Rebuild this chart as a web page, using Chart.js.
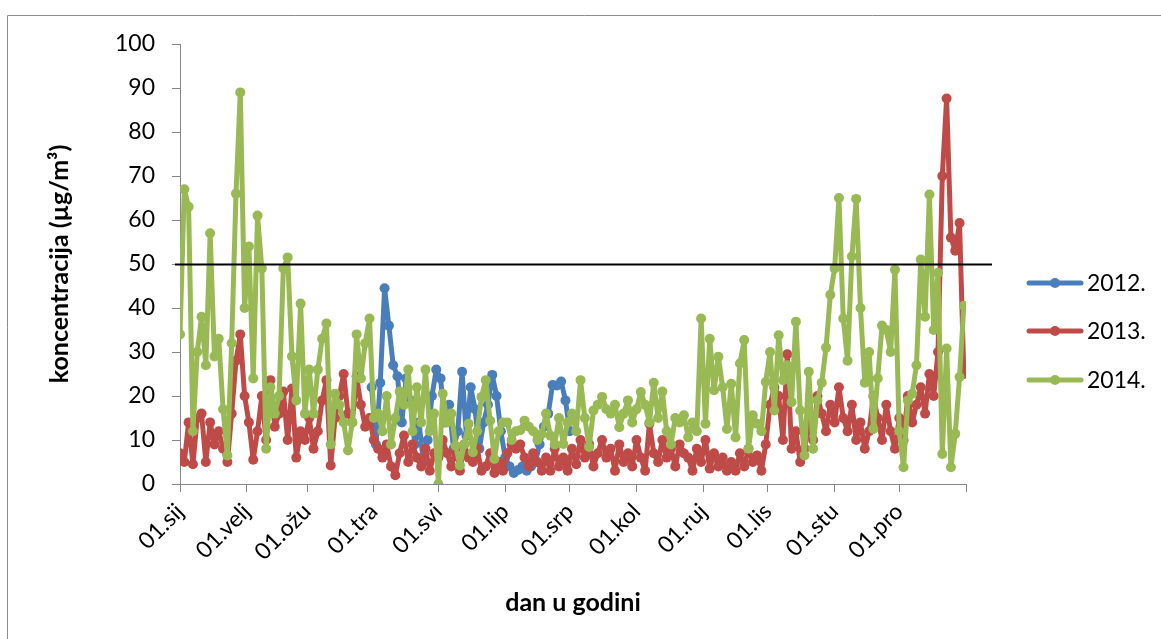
<!DOCTYPE html>
<html>
<head>
<meta charset="utf-8">
<script src="https://cdn.jsdelivr.net/npm/chart.js@4.4.1/dist/chart.umd.min.js"></script>
<style>
  html, body { margin: 0; padding: 0; background: #fff; }
  #wrap { width: 1161px; height: 639px; }
</style>
</head>
<body>
<div id="wrap"><canvas id="chart" width="1161" height="639"></canvas></div>
<script>
// dnevne koncentracije, očitano svaki drugi dan (dan u godini, 0 = 01.sij)
const STEP = 2;
const LIMIT = 50;

const labels2012 = "2012.";
const start2012 = 89;
const vals2012 = [22,9,23,44.5,36,27,24.5,14,24,19,9,14,5,10,20,26,24,14,18,8,
  12,25.5,11,22,17,8,14,18,24.8,20,12,6,4,2.5,3.2,4,3,4,5,9,
  13,16,22.5,22.4,23.3,19,12];

const labels2013 = "2013.";
const start2013 = 0;
const vals2013 = [7,5,14,4.5,15,16,5,14,9,12,8,5,16,28,34,20,14,5.5,12,20,
  10,23.6,13,16,21,10,21.7,6,12,10,15,8,12,19,23.6,4.2,15,20,25,16,
  14,24.5,18,13,15,10,8,6,9,4,2,7,11,5,9,6,4,8,3,7,
  6,10,7,4,8,3,9,6,5,8,3,4,7,2.5,5,3,7,9,8,9,
  6,4,7,5,3,6,3,8,4,6,3,8,4.5,10,6,9,4,7,10,6,
  8,3,9,5,7,4,10,6,3,13.7,7,5,10,6,8,4,9,7,6,3,
  8,5,10,3.5,7,4,6,3,5,3,7,4,8,5,6.5,3,9,18,22,20,
  10,29.5,8,12,5,8,14,10,20,16,12,18,14,22,15,12,18,10,14,8,
  12,20,15,10,18,12,8,15,10,20,14,18,22,16,25,20,30,70,87.6,56,
  53,59.3,25];

const labels2014 = "2014.";
const start2014 = 0;
const vals2014 = [34,67,63,12,30,38,27,57,29,33,17,6.5,32,66,89,40,54,24,61,49,
  8,22,16,20,49,51.5,29,19,41,16,26,16,26,33,36.5,9,20.5,18,14,7.6,
  14,34,24,32,37.6,15,16,12,20,9,15,21,18,26,12,22,14,26,12,16,
  0,20.5,14,16,8.7,4.2,9,13.7,7.2,12,19.8,23.6,14.4,5.7,12,14,14,10,12,12.2,
  14.4,13,12,10,11.4,16,11,9,15,9.1,14,16,12,23.6,15,8.4,16.7,18,19.8,17,
  16,18,12.9,16,19,14,17,20.9,18,14,23,15,21,12,9,15,14,15.6,10.6,14,
  12,37.6,13.7,33,21.3,28.9,22,12.5,22.8,10.6,27.4,32.7,8,15.6,13.7,12,23.2,30,16.7,33.8,
  23.6,27,18.6,36.9,16.7,6.5,25.5,8,19,23,31,43,49,65,37.6,28,51.7,64.8,40,23,
  30,12.5,24,36,35,30,48.7,12,3.8,19,20.5,27,51,38,65.8,35,48,6.8,30.8,3.8,
  11.4,24.3,40.5];

// osi
const monthDays = [0,31,59,90,120,151,181,212,243,273,304,334,365];
const monthLabels = ["01.sij","01.velj","01.ožu","01.tra","01.svi","01.lip","01.srp","01.kol","01.ruj","01.lis","01.stu","01.pro",""];
const yTicks = [0,10,20,30,40,50,60,70,80,90,100];

const BLUE  = "#4a7ebb";
const RED   = "#be4b48";
const GREEN = "#98b954";
const FONT  = "Lato";

function toPoints(start, vals){
  return vals.map((v, i) => ({ x: start + i * STEP, y: v }));
}

function makeSet(label, start, vals, color, order){
  return {
    label,
    data: toPoints(start, vals),
    borderColor: color,
    backgroundColor: color,
    borderWidth: 5,
    borderJoinStyle: "round",
    borderCapStyle: "round",
    pointRadius: 5,
    pointBorderWidth: 0,
    pointBackgroundColor: color,
    tension: 0,
    order,
  };
}

// granična vrijednost, okvir i legenda
const extrasPlugin = {
  id: "extras",
  afterDatasetsDraw(chart){
    const { ctx, chartArea } = chart;
    const y = Math.round(chart.scales.y.getPixelForValue(LIMIT)) + 0.5;
    ctx.save();
    ctx.strokeStyle = "#000";
    ctx.lineWidth = 2;
    ctx.beginPath();
    ctx.moveTo(chartArea.left - 5, y);
    ctx.lineTo(chartArea.right + 26, y);
    ctx.stroke();
    ctx.restore();
  },
  afterDraw(chart){
    const ctx = chart.ctx;
    ctx.save();
    ctx.strokeStyle = "#8c8c8c";
    ctx.lineWidth = 1;
    ctx.beginPath();
    ctx.moveTo(7.5, 639);
    ctx.lineTo(7.5, 15.5);
    ctx.lineTo(1161, 15.5);
    ctx.stroke();

    const rows = [283, 331, 380];
    chart.data.datasets.forEach((ds, i) => {
      const y = rows[i];
      ctx.strokeStyle = ds.borderColor;
      ctx.lineWidth = 5;
      ctx.lineCap = "round";
      ctx.beginPath();
      ctx.moveTo(1029, y);
      ctx.lineTo(1081, y);
      ctx.stroke();
      ctx.fillStyle = ds.borderColor;
      ctx.beginPath();
      ctx.arc(1055, y, 5, 0, Math.PI * 2);
      ctx.fill();
      ctx.fillStyle = "#000";
      ctx.font = `23px ${FONT}`;
      ctx.textBaseline = "middle";
      ctx.fillText(ds.label, 1087, y + 1);
    });
    ctx.restore();
  }
};

new Chart(document.getElementById("chart"), {
  type: "line",
  data: {
    datasets: [
      makeSet(labels2012, start2012, vals2012, BLUE, 2),
      makeSet(labels2013, start2013, vals2013, RED, 1),
      makeSet(labels2014, start2014, vals2014, GREEN, 0),
    ]
  },
  options: {
    responsive: false,
    animation: false,
    layout: { padding: { left: 0, top: 44, right: 195, bottom: 0 } },
    plugins: {
      legend: { display: false },
      tooltip: { enabled: false },
    },
    scales: {
      x: {
        type: "linear",
        min: 0,
        max: 365,
        afterFit: (s) => { s.height = 155; },
        afterBuildTicks: (s) => { s.ticks = monthDays.map(v => ({ value: v })); },
        ticks: {
          autoSkip: false,
          minRotation: 45,
          maxRotation: 45,
          padding: 6,
          color: "#000",
          font: { family: FONT, size: 23 },
          callback: (v) => monthLabels[monthDays.indexOf(v)] ?? "",
        },
        grid: { drawOnChartArea: false, drawTicks: true, tickLength: 8, color: "#868686" },
        border: { color: "#868686", width: 1 },
        title: {
          display: true,
          text: "dan u godini",
          color: "#000",
          font: { family: FONT, size: 25, weight: "bold" },
          padding: { top: 0, bottom: 21 },
        },
      },
      y: {
        min: 0,
        max: 100,
        afterFit: (s) => { s.width = 180; },
        afterBuildTicks: (s) => { s.ticks = yTicks.map(v => ({ value: v })); },
        ticks: {
          padding: 17,
          color: "#000",
          font: { family: FONT, size: 23 },
        },
        grid: { drawOnChartArea: false, drawTicks: true, tickLength: 8, color: "#868686" },
        border: { color: "#868686", width: 1 },
        title: {
          display: true,
          text: "koncentracija (µg/m³)",
          color: "#000",
          font: { family: FONT, size: 25, weight: "bold" },
          padding: { top: 45, bottom: 0 },
        },
      },
    },
  },
  plugins: [extrasPlugin],
});
</script>
</body>
</html>
